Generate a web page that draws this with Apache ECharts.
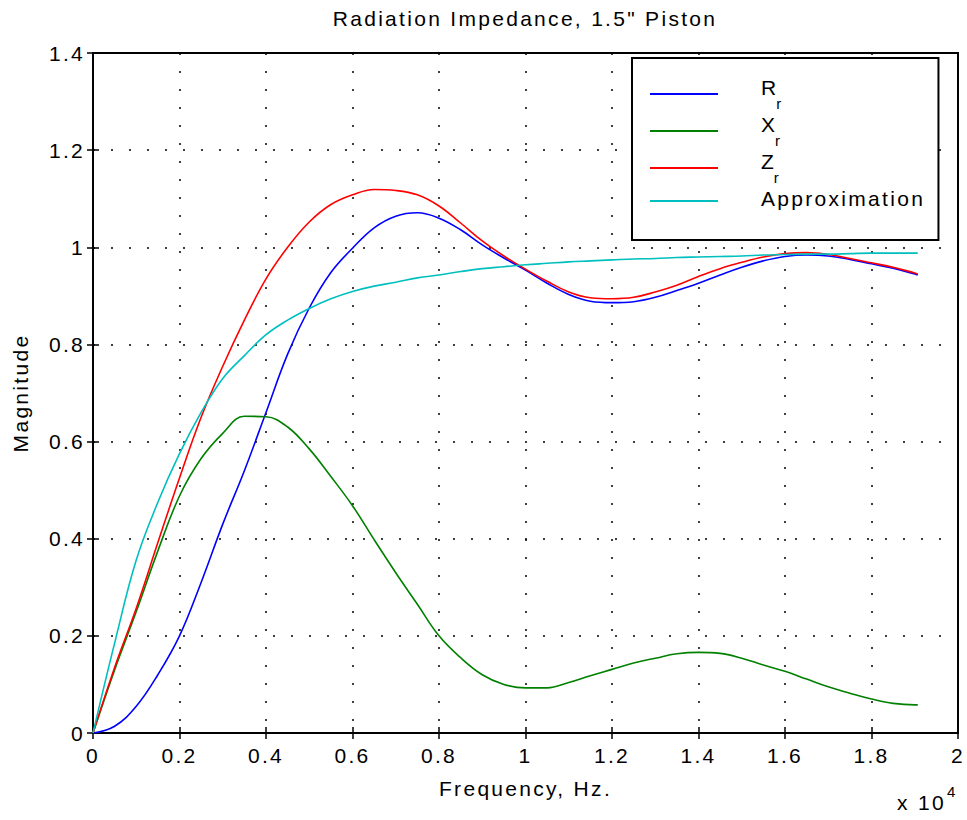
<!DOCTYPE html>
<html>
<head>
<meta charset="utf-8">
<script src="https://cdn.jsdelivr.net/npm/echarts@6/dist/echarts.min.js"></script>
<style>
html,body{margin:0;padding:0;background:#fff}
#c{width:967px;height:820px}
#c svg text{letter-spacing:2.3px}
</style>
</head>
<body>
<div id="c"></div>
<script>
// ---- data (frequency in Hz) ----
const frequencyHz = [0, 500, 1000, 1500, 2000, 2500, 3000, 3500, 4000, 4500, 5000, 5500, 6000, 6500, 7000, 7500, 8000, 8500, 9000, 9500,
  10000, 10500, 11000, 11500, 12000, 12500, 13000, 13500, 14000, 14500, 15000, 15500, 16000, 16500, 17000, 17500, 18000, 18500, 19000, 19070];
const resistanceRr = [0, 0.014, 0.055, 0.12, 0.2, 0.31, 0.43, 0.54, 0.66, 0.78, 0.875, 0.948, 0.998, 1.04, 1.064, 1.071, 1.06, 1.036, 1.005, 0.978,
  0.953, 0.926, 0.903, 0.889, 0.886, 0.888, 0.897, 0.911, 0.926, 0.943, 0.959, 0.972, 0.981, 0.984, 0.982, 0.975, 0.966, 0.957, 0.945, 0.943];
const reactanceXr = [0, 0.13, 0.25, 0.375, 0.488, 0.565, 0.617, 0.652, 0.651, 0.63, 0.585, 0.528, 0.468, 0.398, 0.33, 0.265, 0.2, 0.155, 0.12, 0.1,
  0.093, 0.093, 0.104, 0.118, 0.131, 0.144, 0.154, 0.163, 0.166, 0.164, 0.154, 0.14, 0.127, 0.111, 0.095, 0.082, 0.07, 0.061, 0.058, 0.058];
const impedanceZr = [0, 0.135, 0.257, 0.392, 0.525, 0.65, 0.755, 0.85, 0.935, 1.0, 1.052, 1.088, 1.108, 1.119, 1.117, 1.108, 1.085, 1.05, 1.013, 0.982,
  0.955, 0.93, 0.908, 0.896, 0.894, 0.897, 0.908, 0.922, 0.94, 0.956, 0.969, 0.98, 0.987, 0.989, 0.985, 0.977, 0.968, 0.959, 0.947, 0.945];
const approximation = [0, 0.185, 0.356, 0.475, 0.575, 0.66, 0.73, 0.777, 0.82, 0.85, 0.874, 0.894, 0.909, 0.92, 0.928, 0.937, 0.943, 0.95, 0.956, 0.96,
  0.964, 0.967, 0.97, 0.972, 0.974, 0.976, 0.977, 0.979, 0.98, 0.981, 0.982, 0.984, 0.985, 0.986, 0.986, 0.987, 0.988, 0.988, 0.988, 0.988];
const xTickLabels = ['0', '0.2', '0.4', '0.6', '0.8', '1', '1.2', '1.4', '1.6', '1.8', '2'];
const yTickLabels = ['0', '0.2', '0.4', '0.6', '0.8', '1', '1.2', '1.4'];
const seriesNames = ['R_r', 'X_r', 'Z_r', 'Approximation'];
const seriesColors = ['#0000ff', '#008000', '#ff0000', '#00bfbf'];
const seriesValues = [resistanceRr, reactanceXr, impedanceZr, approximation];

const FONT = '"Liberation Sans", Arial, Helvetica, sans-serif';
const FS = 21;

const chart = echarts.init(document.getElementById('c'), null, {renderer: 'svg'});

const baseAxis = {
  axisLine: {show: true, lineStyle: {color: '#000', width: 2}},
  axisTick: {show: true, inside: true, length: 6, lineStyle: {color: '#000', width: 1.5}},
  splitLine: {show: false}
};

const option = {
  animation: false,
  backgroundColor: '#fff',
  textStyle: {fontFamily: FONT, color: '#000'},
  title: [
    {
      text: 'Radiation Impedance, 1.5" Piston',
      left: 525, top: 8, padding: 0, textAlign: 'center',
      textStyle: {fontFamily: FONT, fontSize: FS, fontWeight: 'normal', color: '#000'}
    },
    {
      text: 'x 10',
      left: 897, top: 792, padding: 0,
      textStyle: {fontFamily: FONT, fontSize: FS, fontWeight: 'normal', color: '#000'}
    },
    {
      text: '4',
      left: 947, top: 784, padding: 0,
      textStyle: {fontFamily: FONT, fontSize: 15, fontWeight: 'normal', color: '#000'}
    }
  ],
  grid: {left: 93, right: 9, top: 53, bottom: 87, show: true, borderColor: '#000', borderWidth: 2, backgroundColor: '#fff'},
  legend: {
    orient: 'vertical', align: 'left', left: 632, top: 58,
    padding: [19, 41, 31, 18], itemGap: 3,
    itemWidth: 68, itemHeight: 2, icon: 'rect',
    backgroundColor: '#fff', borderColor: '#000', borderWidth: 2,
    selectedMode: false,
    data: seriesNames,
    formatter: function (name) {
      if (name === 'Approximation') return '{m2|Approximation}{h| }';
      return '{m|' + name.charAt(0) + '}{s|' + name.slice(2) + '}{h| }';
    },
    textStyle: {
      fontFamily: FONT, fontSize: FS, color: '#000', padding: [0, 0, 0, 38],
      rich: {
        m: {fontFamily: FONT, fontSize: FS, verticalAlign: 'top', color: '#000'},
        m2: {fontFamily: FONT, fontSize: FS, verticalAlign: 'top', padding: [4, 0, 0, 0], color: '#000'},
        s: {fontFamily: FONT, fontSize: 15, verticalAlign: 'bottom', color: '#000'},
        h: {fontFamily: FONT, fontSize: 8, lineHeight: 34, color: '#000'}
      }
    }
  },
  xAxis: [
    Object.assign({}, baseAxis, {
      type: 'value', position: 'bottom', min: 0, max: 20000, interval: 2000,
      name: 'Frequency, Hz.', nameLocation: 'middle', nameGap: 45,
      nameTextStyle: {fontFamily: FONT, fontSize: FS, color: '#000'},
      axisLabel: {margin: 12, fontFamily: FONT, fontSize: FS, color: '#000',
        formatter: function (v) { return xTickLabels[Math.round(v / 2000)]; }},
      splitLine: {show: true, lineStyle: {color: '#000', width: 1.5, type: [2, 16]}}
    }),
    Object.assign({}, baseAxis, {
      type: 'value', position: 'top', min: 0, max: 20000, interval: 2000,
      axisLabel: {show: false}
    })
  ],
  yAxis: [
    Object.assign({}, baseAxis, {
      type: 'value', position: 'left', min: 0, max: 1.4, interval: 0.2,
      name: 'Magnitude', nameLocation: 'middle', nameGap: 62,
      nameTextStyle: {fontFamily: FONT, fontSize: FS, color: '#000'},
      axisLabel: {margin: 8, fontFamily: FONT, fontSize: FS, color: '#000',
        formatter: function (v) { return yTickLabels[Math.round(v / 0.2)]; }},
      splitLine: {show: true, lineStyle: {color: '#000', width: 1.5, type: [2, 16]}}
    }),
    Object.assign({}, baseAxis, {
      type: 'value', position: 'right', min: 0, max: 1.4, interval: 0.2,
      axisLabel: {show: false}
    })
  ],
  series: seriesNames.map(function (name, k) {
    return {
      name: name, type: 'line', xAxisIndex: 0, yAxisIndex: 0,
      data: frequencyHz.map(function (f, i) { return [f, seriesValues[k][i]]; }),
      showSymbol: false, symbol: 'none',
      smooth: 0.4,
      color: seriesColors[k],
      lineStyle: {color: seriesColors[k], width: 1.6},
      itemStyle: {color: seriesColors[k]}
    };
  })
};
chart.setOption(option);
</script>
</body>
</html>
